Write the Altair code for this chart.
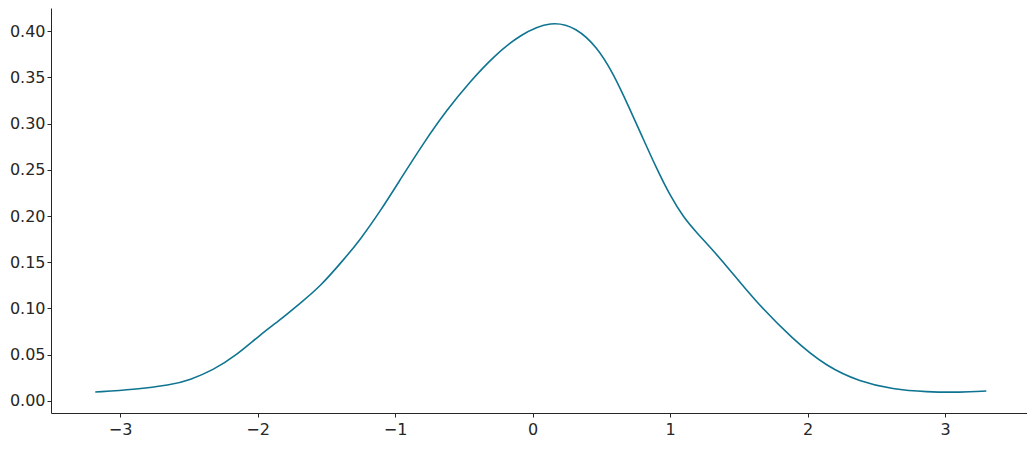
import altair as alt
import pandas as pd

# KDE curve
xs = [-3.18, -2.90, -2.636, -2.491, -2.321, -2.151, -1.982, -1.836, -1.691,
      -1.545, -1.376, -1.255, -1.11, -0.964, -0.794, -0.624, -0.455, -0.285,
      -0.091, 0.139, 0.321, 0.467, 0.588, 0.70, 0.80, 0.90, 1.0,
      1.10, 1.20, 1.30, 1.436, 1.606, 1.897, 2.14, 2.38, 2.62, 2.867,
      3.11, 3.30]
ys = [0.0097, 0.0124, 0.0170, 0.0228, 0.0335, 0.0497, 0.0714, 0.0876, 0.1056,
      0.1236, 0.1524, 0.174, 0.2046, 0.2389, 0.2786, 0.3146, 0.3452, 0.3722,
      0.3965, 0.4115, 0.4035, 0.383, 0.354, 0.318, 0.285, 0.252, 0.222,
      0.198, 0.181, 0.165, 0.1416, 0.1103, 0.066, 0.0371, 0.0209, 0.0126, 0.0097,
      0.0093, 0.0108]

x_ticks = [-3, -2, -1, 0, 1, 2, 3]
y_ticks = [0.0, 0.05, 0.10, 0.15, 0.20, 0.25, 0.30, 0.35, 0.40]

df = pd.DataFrame({"x": xs, "y": ys})

FONT = "DejaVu Sans"
TXT = "#262626"

chart = alt.Chart(df).mark_line(
    color="#0f7491", strokeWidth=1.6, interpolate="basis"
).encode(
    x=alt.X("x:Q", title=None,
            scale=alt.Scale(domain=[-3.502, 3.596], nice=False, zero=False),
            axis=alt.Axis(values=x_ticks, format="d", grid=False,
                          tickSize=4, labelPadding=4)),
    y=alt.Y("y:Q", title=None,
            scale=alt.Scale(domain=[-0.0130, 0.4249], nice=False, zero=False),
            axis=alt.Axis(values=y_ticks, format=".2f", grid=False,
                          tickSize=4, labelPadding=2)),
).properties(
    width=976, height=405,
    background="white",
    autosize=alt.AutoSizeParams(type="none"),
    padding={"left": 43, "top": 0, "right": 0, "bottom": 24},
).configure_view(
    strokeWidth=0
).configure_axis(
    labelFont=FONT, labelFontSize=16, labelColor=TXT,
    domainColor=TXT, tickColor=TXT, domainWidth=1, tickWidth=1,
    labelFlush=False, labelOverlap=False
)

chart.save("out.html", embed_options={"renderer": "svg", "actions": False})
